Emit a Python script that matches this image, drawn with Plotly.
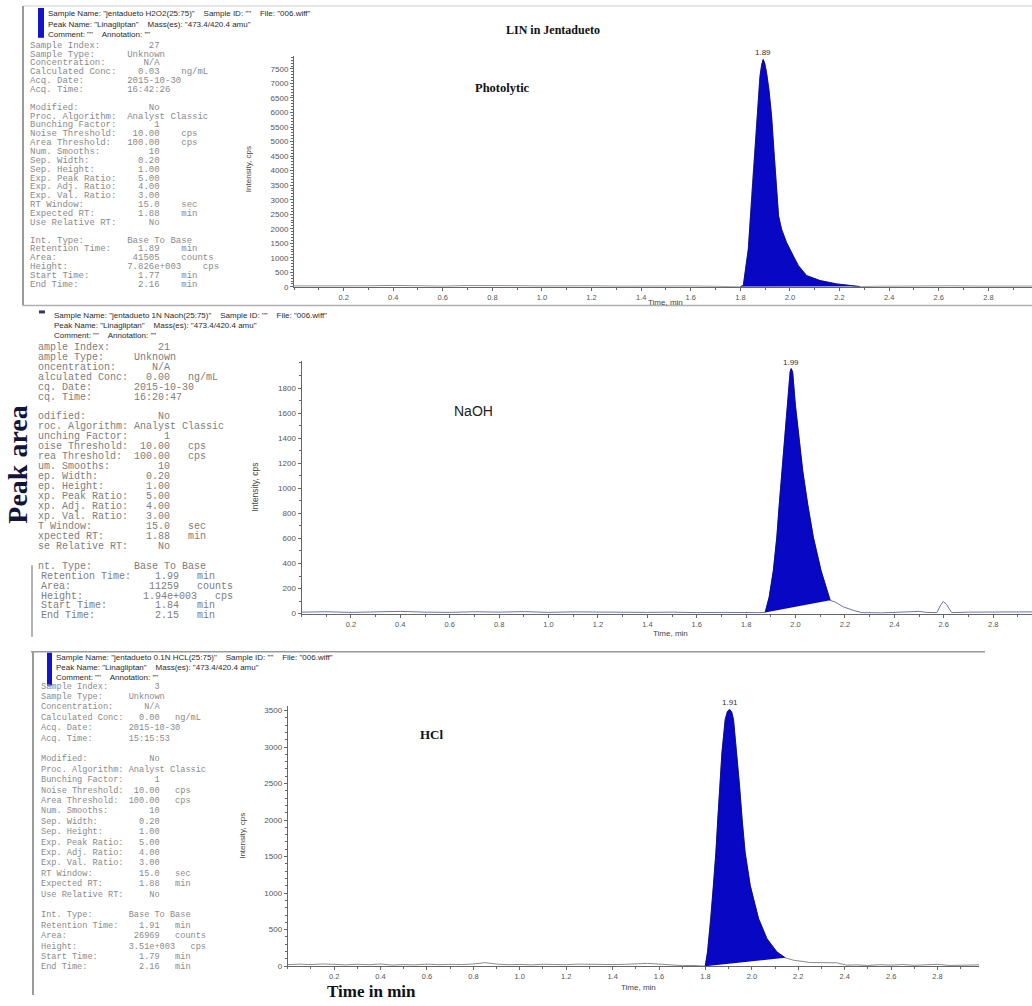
import plotly.graph_objects as go

W, H = 1032, 1006

# ---------------- chromatogram data ----------------
# Panel 1 : Photolytic
photo_base_t = [0.0, 0.1, 0.2, 0.3, 0.4, 0.5, 0.6, 0.7, 0.8, 0.9, 1.0, 1.1, 1.2, 1.3, 1.4, 1.5, 1.6, 1.7, 1.78]
photo_base_i = [30, 25, 40, 35, 50, 30, 25, 45, 55, 40, 30, 45, 35, 25, 30, 40, 30, 20, 10]
photo_peak_t = [1.800, 1.812, 1.832, 1.849, 1.866, 1.879, 1.886, 1.892, 1.898, 1.905, 1.915, 1.926, 1.935,
                1.944, 1.954, 1.966, 1.986, 2.013, 2.034, 2.067, 2.121, 2.188, 2.282]
photo_peak_i = [0, 60, 1301, 3585, 5868, 7237, 7650, 7826, 7700, 7400, 6800, 5868, 4726,
                3585, 2443, 1986, 1530, 1073, 731, 388, 217, 103, 10]
photo_tail_t = [2.35, 2.45, 2.55, 2.65, 2.75, 2.85, 2.976]
photo_tail_i = [20, 30, 25, 35, 25, 30, 25]

# Panel 2 : NaOH
naoh_base_t = [0.0, 0.1, 0.2, 0.3, 0.4, 0.5, 0.6, 0.7, 0.8, 0.9, 1.0, 1.1, 1.2, 1.3, 1.4, 1.5, 1.6, 1.7, 1.8, 1.849]
naoh_base_i = [12, 15, 10, 14, 18, 12, 10, 15, 12, 16, 10, 14, 12, 15, 10, 12, 8, 10, 6, 8]
naoh_peak_t = [1.877, 1.893, 1.910, 1.924, 1.934, 1.945, 1.956, 1.967, 1.978, 1.982, 1.988, 1.999,
               2.013, 2.029, 2.049, 2.072, 2.103, 2.126, 2.140]
naoh_peak_i = [10, 132, 344, 609, 873, 1138, 1402, 1667, 1931, 1955, 1931, 1667,
               1402, 1138, 873, 609, 344, 185, 106]
naoh_tail_t = [2.160, 2.194, 2.234, 2.268, 2.35, 2.45, 2.50, 2.53, 2.572, 2.585, 2.598, 2.612, 2.632, 2.70, 2.80, 2.90, 2.957]
naoh_tail_i = [93, 53, 26, 8, 6, 12, 18, 10, 8, 60, 98, 70, 8, 12, 14, 12, 14]

# Panel 3 : HCl
hcl_base_t = [0.0, 0.05, 0.1, 0.15, 0.2, 0.25, 0.3, 0.35, 0.4, 0.45, 0.5, 0.55, 0.6, 0.65, 0.7, 0.75,
              0.8, 0.85, 0.9, 0.95, 1.0, 1.05, 1.1, 1.15, 1.2, 1.25, 1.3, 1.35, 1.4, 1.45, 1.5, 1.55,
              1.6, 1.65, 1.7, 1.75]
hcl_base_i = [20, 28, 22, 30, 25, 18, 26, 20, 30, 15, 22, 18, 28, 20, 25, 22,
              30, 48, 28, 20, 24, 18, 26, 22, 20, 28, 24, 18, 22, 25, 30, 38,
              28, 15, 8, 10]
hcl_peak_t = [1.799, 1.809, 1.823, 1.835, 1.845, 1.853, 1.861, 1.871, 1.885, 1.895, 1.904, 1.913,
              1.921, 1.935, 1.947, 1.958, 1.971, 1.993, 2.029, 2.065, 2.108, 2.144]
hcl_peak_i = [0, 195, 650, 1104, 1557, 2012, 2466, 2920, 3375, 3490, 3515, 3480,
              3375, 2920, 2466, 2012, 1557, 1104, 650, 377, 195, 114]
hcl_tail_t = [2.179, 2.251, 2.30, 2.366, 2.409, 2.45, 2.50, 2.55, 2.60, 2.65, 2.70, 2.75, 2.80, 2.85, 2.90, 2.95, 2.98]
hcl_tail_i = [82, 50, 48, 46, 14, 18, 10, 20, 15, 22, 12, 20, 25, 10, 16, 14, 18]

# Peak apex labels
photo_rt, photo_rt_label = 1.892, "1.89"
naoh_rt, naoh_rt_label = 1.982, "1.99"
hcl_rt, hcl_rt_label = 1.904, "1.91"

# Axis ticks
x_tickvals = [0.2, 0.4, 0.6, 0.8, 1.0, 1.2, 1.4, 1.6, 1.8, 2.0, 2.2, 2.4, 2.6, 2.8]
x_ticktext = ["0.2", "0.4", "0.6", "0.8", "1.0", "1.2", "1.4", "1.6", "1.8", "2.0", "2.2", "2.4", "2.6", "2.8"]
photo_yticks = [0, 500, 1000, 1500, 2000, 2500, 3000, 3500, 4000, 4500, 5000, 5500, 6000, 6500, 7000, 7500]
naoh_yticks = [0, 200, 400, 600, 800, 1000, 1200, 1400, 1600, 1800]
hcl_yticks = [0, 500, 1000, 1500, 2000, 2500, 3000, 3500]

# ---------------- info-block text ----------------
info_labels = ["Sample Index:", "Sample Type:", "Concentration:", "Calculated Conc:", "Acq. Date:", "Acq. Time:", "",
               "Modified:", "Proc. Algorithm:", "Bunching Factor:", "Noise Threshold:", "Area Threshold:",
               "Num. Smooths:", "Sep. Width:", "Sep. Height:", "Exp. Peak Ratio:", "Exp. Adj. Ratio:",
               "Exp. Val. Ratio:", "RT Window:", "Expected RT:", "Use Relative RT:", "",
               "Int. Type:", "Retention Time:", "Area:", "Height:", "Start Time:", "End Time:"]
info_units = ["", "", "", "ng/mL", "", "", "", "", "", "", "cps", "cps", "", "", "", "", "", "",
              "sec", "min", "", "", "", "min", "counts", "cps", "min", "min"]
photo_values = ["27", "Unknown", "N/A", "0.03", "2015-10-30", "16:42:26", "", "No", "Analyst Classic", "1",
                "10.00", "100.00", "10", "0.20", "1.00", "5.00", "4.00", "3.00", "15.0", "1.88", "No", "",
                "Base To Base", "1.89", "41505", "7.826e+003", "1.77", "2.16"]
naoh_values = ["21", "Unknown", "N/A", "0.00", "2015-10-30", "16:20:47", "", "No", "Analyst Classic", "1",
               "10.00", "100.00", "10", "0.20", "1.00", "5.00", "4.00", "3.00", "15.0", "1.88", "No", "",
               "Base To Base", "1.99", "11259", "1.94e+003", "1.84", "2.15"]
hcl_values = ["3", "Unknown", "N/A", "0.00", "2015-10-30", "15:15:53", "", "No", "Analyst Classic", "1",
              "10.00", "100.00", "10", "0.20", "1.00", "5.00", "4.00", "3.00", "15.0", "1.88", "No", "",
              "Base To Base", "1.91", "26969", "3.51e+003", "1.79", "2.16"]

photo_header = ['Sample Name: "jentadueto H2O2(25:75)"    Sample ID: ""    File: "006.wiff"',
                'Peak Name: "Linagliptan"    Mass(es): "473.4/420.4 amu"',
                'Comment: ""    Annotation: ""']
naoh_header = ['Sample Name: "jentadueto 1N Naoh(25:75)"    Sample ID: ""    File: "006.wiff"',
               'Peak Name: "Linagliptan"    Mass(es): "473.4/420.4 amu"',
               'Comment: ""    Annotation: ""']
hcl_header = ['Sample Name: "jentadueto 0.1N HCL(25:75)"    Sample ID: ""    File: "006.wiff"',
              'Peak Name: "Linagliptan"    Mass(es): "473.4/420.4 amu"',
              'Comment: ""    Annotation: ""']

# ---------------- styling ----------------
FILL = "#0707c4"
EDGE = "#000090"
AX = "#666666"
MONO = "Liberation Mono, Courier New, monospace"
SANS = "Liberation Sans, Arial, sans-serif"
SERIF = "Liberation Serif, Times New Roman, serif"
NB = "\u00a0"


def X(p):
    return p / W


def Y(p):
    return 1 - p / H


fig = go.Figure()


def add_chrom(n, base_t, base_i, peak_t, peak_i, tail_t, tail_i, line_color):
    xa = "x" if n == 1 else f"x{n}"
    ya = "y" if n == 1 else f"y{n}"
    fig.add_trace(go.Scatter(x=base_t + peak_t + tail_t, y=base_i + peak_i + tail_i, mode="lines",
                             line=dict(color=line_color, width=1), xaxis=xa, yaxis=ya,
                             hoverinfo="skip", showlegend=False))
    fig.add_trace(go.Scatter(x=peak_t, y=peak_i, mode="lines", fill="toself", fillcolor=FILL,
                             line=dict(color=EDGE, width=0.8), xaxis=xa, yaxis=ya,
                             hoverinfo="skip", showlegend=False))


add_chrom(1, photo_base_t, photo_base_i, photo_peak_t, photo_peak_i, photo_tail_t, photo_tail_i, "#8a8a8a")
add_chrom(2, naoh_base_t, naoh_base_i, naoh_peak_t, naoh_peak_i, naoh_tail_t, naoh_tail_i, "#6b72a8")
add_chrom(3, hcl_base_t, hcl_base_i, hcl_peak_t, hcl_peak_i, hcl_tail_t, hcl_tail_i, "#8a8a8a")


def xcfg(x0, x1, xmax, anchor):
    return dict(domain=[X(x0), X(x1)], range=[0, xmax], anchor=anchor, showline=True, linecolor=AX,
                linewidth=1, ticks="outside", ticklen=3, tickcolor=AX, tickvals=x_tickvals,
                ticktext=x_ticktext, tickfont=dict(size=7.5, color="#555", family=SANS),
                minor=dict(ticks="outside", ticklen=2, tickmode="linear", tick0=0, dtick=0.1, tickcolor=AX),
                showgrid=False, zeroline=False, fixedrange=True)


def ycfg(y0, y1, ymax, ticks, minor, anchor):
    return dict(domain=[Y(y0), Y(y1)], range=[0, ymax], anchor=anchor, showline=True, linecolor=AX,
                linewidth=1, ticks="outside", ticklen=3, tickcolor=AX, tickvals=ticks,
                ticktext=[str(v) for v in ticks], tickfont=dict(size=8, color="#555", family=SANS),
                minor=dict(ticks="outside", ticklen=2, tickmode="linear", tick0=0, dtick=minor, tickcolor=AX),
                showgrid=False, zeroline=False, fixedrange=True)


fig.update_layout(
    width=W, height=H, margin=dict(l=0, r=0, t=0, b=0),
    paper_bgcolor="white", plot_bgcolor="rgba(0,0,0,0)", showlegend=False,
    xaxis=xcfg(294, 1032, 2.976, "y"),
    yaxis=ycfg(288.3, 56.7, 7930, photo_yticks, 100, "x"),
    xaxis2=xcfg(301.5, 1032, 2.957, "y2"),
    yaxis2=ycfg(616.7, 362.9, 2015, naoh_yticks, 100, "x2"),
    xaxis3=xcfg(287.7, 979.3, 2.98, "y3"),
    yaxis3=ycfg(971, 709.5, 3562, hcl_yticks, 100, "x3"),
)

ann = []


def txt(x, y, s, size, color="#222", family=SANS, xanchor="left", yanchor="middle", bold=False, angle=0):
    if bold:
        s = f"<b>{s}</b>"
    ann.append(dict(x=X(x), y=Y(y), xref="paper", yref="paper", text=s, showarrow=False,
                    xanchor=xanchor, yanchor=yanchor, textangle=angle, borderpad=0,
                    font=dict(size=size, color=color, family=family)))


def fmt(label, value, unit, lab_w, unit_gap):
    if not label:
        return ""
    s = label.ljust(lab_w)
    numeric = value in ("N/A", "No") or all(c in "0123456789.+e," for c in value)
    if numeric:
        s += value.rjust(6)
    else:
        s += value
    if unit:
        s += " " * unit_gap + unit
    return s.replace(" ", NB)


def info_block(values, x0, y0, dy, size, color, lab_w=17, unit_gap=3, crop_upto=-1, x_full=None):
    for k, (lab, val, unit) in enumerate(zip(info_labels, values, info_units)):
        line = fmt(lab, val, unit, lab_w, unit_gap)
        if not line:
            continue
        xx = x0
        if k <= crop_upto:
            line = line[1:]
        elif x_full is not None:
            xx = x_full
        txt(xx, y0 + k * dy, line, size, color=color, family=MONO)


info_block(photo_values, 29, 46, 8.9, 9, "#8a8a8a", lab_w=18, unit_gap=4)
info_block(naoh_values, 37, 349, 10.0, 10, "#7d7d7d", crop_upto=22, x_full=40)
info_block(hcl_values, 40, 690, 10.45, 8.6, "#8a8a8a")

# headers
for k, line in enumerate(photo_header):
    txt(47, 14 + k * 10.3, line.replace("    ", NB * 4), 8, color="#2a2a2a")
for k, line in enumerate(naoh_header):
    txt(53, 317 + k * 10.3, line.replace("    ", NB * 4), 8, color="#2a2a2a")
for k, line in enumerate(hcl_header):
    txt(55, 661 + k * 10.0, line.replace("    ", NB * 4), 8, color="#2a2a2a")

# axis titles
txt(248, 170, "Intensity, cps", 8, color="#444", xanchor="center", angle=-90)
txt(255, 490, "Intensity, cps", 8.5, color="#444", xanchor="center", angle=-90)
txt(243, 840, "Intensity, cps", 8, color="#444", xanchor="center", angle=-90)
txt(665, 304, "Time, min", 8, color="#444", xanchor="center")
txt(670, 637, "Time, min", 8, color="#444", xanchor="center")
txt(638, 992, "Time, min", 8, color="#444", xanchor="center")

# peak labels
for xa, ya, t, pk_list, lab in [("x", "y", photo_rt, photo_peak_i, photo_rt_label),
                                ("x2", "y2", naoh_rt, naoh_peak_i, naoh_rt_label),
                                ("x3", "y3", hcl_rt, hcl_peak_i, hcl_rt_label)]:
    ann.append(dict(x=t, y=max(pk_list), xref=xa, yref=ya, text=lab, showarrow=False, yanchor="bottom",
                    yshift=0, font=dict(size=8, color="#333", family=SANS)))

# titles
txt(553, 30, "LIN in Jentadueto", 12, color="#111", family=SERIF, xanchor="center", bold=True)
txt(502, 88, "Photolytic", 12.5, color="#111", family=SERIF, xanchor="center", bold=True)
txt(473, 413, "NaOH", 14, color="#222", family=SANS, xanchor="center")
txt(432, 738, "HCl", 13, color="#111", family=SERIF, xanchor="center", bold=True)
txt(18, 467, "Peak area", 28, color="#14143a", family=SERIF, xanchor="center", bold=True, angle=-90)
txt(371, 996, "Time in min", 17, color="#111", family=SERIF, xanchor="center", bold=True)

fig.update_layout(annotations=ann)

# frames and header bars
shapes = []


def line(x0, y0, x1, y1, color="#9a9a9a", width=1.5):
    shapes.append(dict(type="line", xref="paper", yref="paper", x0=X(x0), y0=Y(y0), x1=X(x1), y1=Y(y1),
                       line=dict(color=color, width=width)))


def bar(x0, y0, x1, y1, color="#1414c8"):
    shapes.append(dict(type="rect", xref="paper", yref="paper", x0=X(x0), y0=Y(y0), x1=X(x1), y1=Y(y1),
                       line=dict(width=0), fillcolor=color))


line(23, 6, 1032, 6, color="#d0d0d0", width=1)
line(23, 6, 23, 307, width=2)
line(23, 307, 1032, 307, color="#b0b0b0", width=1.5)
line(32, 568, 32, 640, width=1.5)
line(31, 655, 985, 655, color="#9a9a9a", width=1.5)
line(33, 655, 33, 1000, width=2)
bar(38, 8, 44, 38)
bar(39, 312, 45, 315, color="#333366")
bar(47, 656, 52, 689)
fig.update_layout(shapes=shapes)

fig.write_html("out.html", config={"displayModeBar": False},
               post_script="document.body.style.margin='0';document.body.style.overflow='hidden';")
